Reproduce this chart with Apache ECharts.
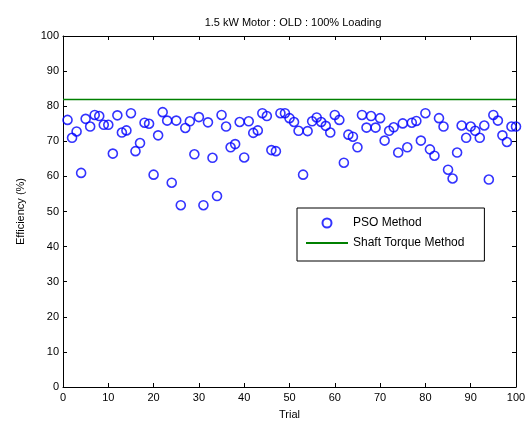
<!DOCTYPE html>
<html>
<head>
<meta charset="utf-8">
<script src="https://cdn.jsdelivr.net/npm/echarts@6/dist/echarts.min.js"></script>
<style>html,body{margin:0;padding:0;background:#fff}#c{width:532px;height:425px}</style>
</head>
<body>
<div id="c"></div>
<script>
const trials = Array.from({length: 100}, (_, i) => i + 1);
const psoEfficiency = [
  76.1, 71.0, 72.8, 61.0, 76.4, 74.2, 77.5, 77.2, 74.7, 74.7,
  66.5, 77.4, 72.5, 73.1, 78.0, 67.2, 69.5, 75.3, 75.0, 60.5,
  71.7, 78.3, 75.9, 58.2, 75.9, 51.8, 73.8, 75.7, 66.3, 76.9,
  51.8, 75.4, 65.3, 54.4, 77.5, 74.2, 68.3, 69.2, 75.5, 65.4,
  75.7, 72.4, 73.1, 78.0, 77.2, 67.5, 67.2, 78.0, 78.0, 76.6,
  75.5, 73.0, 60.5, 72.9, 75.7, 76.8, 75.5, 74.4, 72.5, 77.5,
  76.1, 63.9, 71.9, 71.3, 68.3, 77.5, 73.9, 77.2, 73.9, 76.6,
  70.2, 73.0, 74.0, 66.8, 75.1, 68.3, 75.3, 75.8, 70.2, 78.0,
  67.7, 65.9, 76.6, 74.2, 61.9, 59.4, 66.8, 74.5, 71.0, 74.2,
  73.0, 71.0, 74.5, 59.1, 77.5, 75.9, 71.7, 69.8, 74.2, 74.2
];
const shaftTorqueX = [0, 100];
const shaftTorqueEff = [81.9, 81.9];
const xTicks = [0, 10, 20, 30, 40, 50, 60, 70, 80, 90, 100];
const yTicks = [0, 10, 20, 30, 40, 50, 60, 70, 80, 90, 100];

const FONT = 'Liberation Sans, Arial, sans-serif';
const chart = echarts.init(document.getElementById('c'), null, {renderer: 'canvas'});
const axisLine = {show: true, onZero: false, lineStyle: {color: '#000', width: 1}};
const tick = {show: true, inside: true, length: 4, lineStyle: {color: '#000'}};
chart.setOption({
  animation: false,
  backgroundColor: '#fff',
  title: {
    text: '1.5 kW Motor : OLD : 100% Loading',
    left: 288, top: 12, textAlign: 'center',
    textStyle: {fontFamily: FONT, fontSize: 11, fontWeight: 'normal', color: '#000'}
  },
  legend: {
    left: 297, top: 208, orient: 'vertical',
    borderColor: '#000', borderWidth: 1, backgroundColor: '#fff',
    padding: [9, 20, 12, 8], itemGap: 8, itemWidth: 42, itemHeight: 9,
    textStyle: {fontFamily: FONT, fontSize: 12, color: '#000'},
    data: ['PSO Method', {name: 'Shaft Torque Method', itemStyle: {opacity: 0}}]
  },
  grid: {left: 63, right: 16, top: 36, bottom: 33, containLabel: false},
  xAxis: [{
    type: 'value', min: 0, max: 100, interval: 10,
    name: 'Trial', nameLocation: 'middle', nameGap: 22,
    nameTextStyle: {fontFamily: FONT, fontSize: 11, color: '#000'},
    axisLine: axisLine, axisTick: tick, splitLine: {show: false},
    axisLabel: {fontFamily: FONT, fontSize: 11, color: '#000', margin: 5,
      formatter: v => xTicks.includes(v) ? String(v) : ''}
  }, {
    type: 'value', position: 'top', min: 0, max: 100, interval: 10,
    axisLine: axisLine, axisTick: tick, axisLabel: {show: false}, splitLine: {show: false}
  }],
  yAxis: [{
    type: 'value', min: 0, max: 100, interval: 10,
    name: 'Efficiency (%)', nameLocation: 'middle', nameGap: 37,
    nameTextStyle: {fontFamily: FONT, fontSize: 11, color: '#000'},
    axisLine: axisLine, axisTick: tick, splitLine: {show: false},
    axisLabel: {fontFamily: FONT, fontSize: 11, color: '#000', margin: 4,
      formatter: v => yTicks.includes(v) ? String(v) : ''}
  }, {
    type: 'value', position: 'right', min: 0, max: 100, interval: 10,
    axisLine: axisLine, axisTick: tick, axisLabel: {show: false}, splitLine: {show: false}
  }],
  series: [{
    name: 'PSO Method', type: 'scatter',
    data: trials.map((t, i) => [t, psoEfficiency[i]]),
    symbol: 'circle', symbolSize: 9,
    itemStyle: {color: 'rgba(0,0,0,0)', borderColor: '#0000ff', borderWidth: 1.6},
    z: 3
  }, {
    name: 'Shaft Torque Method', type: 'line',
    data: shaftTorqueX.map((x, i) => [x, shaftTorqueEff[i]]),
    symbol: 'none', showSymbol: false,
    lineStyle: {color: '#008000', width: 1.6}, itemStyle: {color: '#008000'},
    z: 2
  }]
});
</script>
</body>
</html>
